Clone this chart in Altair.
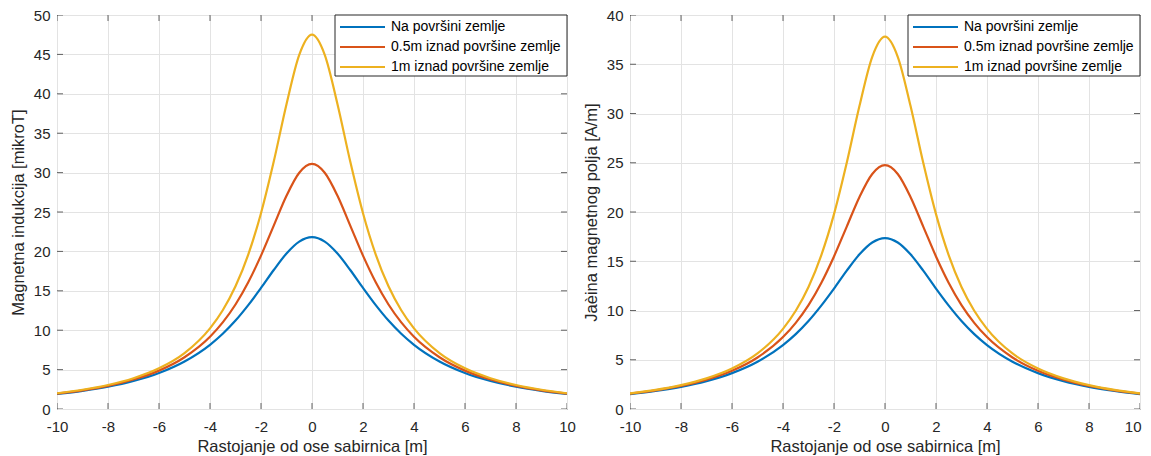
import altair as alt
import pandas as pd

x_vals = [-10, -9, -8, -7, -6, -5, -4, -3.5, -3, -2.5, -2, -1.5, -1, -0.5, 0,
          0.5, 1, 1.5, 2, 2.5, 3, 3.5, 4, 5, 6, 7, 8, 9, 10]

series_names = ["Na površini zemlje", "0.5m iznad površine zemlje", "1m iznad površine zemlje"]
series_colors = ["#0072BD", "#D95319", "#EDB120"]

# Left panel: magnetna indukcija [mikroT]
b_surface = [1.90, 2.30, 2.83, 3.56, 4.57, 6.03, 8.15, 9.55, 11.22, 13.18, 15.36, 17.64, 19.73, 21.24, 21.80,
             21.24, 19.73, 17.64, 15.36, 13.18, 11.22, 9.55, 8.15, 6.03, 4.57, 3.56, 2.83, 2.30, 1.90]
b_half = [1.95, 2.37, 2.94, 3.74, 4.87, 6.57, 9.17, 10.99, 13.26, 16.08, 19.46, 23.27, 27.06, 29.98, 31.10,
          29.98, 27.06, 23.27, 19.46, 16.08, 13.26, 10.99, 9.17, 6.57, 4.87, 3.74, 2.94, 2.37, 1.95]
b_one = [2.00, 2.44, 3.05, 3.91, 5.16, 7.09, 10.23, 12.53, 15.57, 19.60, 24.85, 31.40, 38.68, 44.94, 47.50,
         44.94, 38.68, 31.40, 24.85, 19.60, 15.57, 12.53, 10.23, 7.09, 5.16, 3.91, 3.05, 2.44, 2.00]

# Right panel: jacina magnetnog polja [A/m]
h_surface = [1.51, 1.83, 2.25, 2.83, 3.64, 4.80, 6.49, 7.60, 8.93, 10.49, 12.22, 14.04, 15.70, 16.90, 17.35,
             16.90, 15.70, 14.04, 12.22, 10.49, 8.93, 7.60, 6.49, 4.80, 3.64, 2.83, 2.25, 1.83, 1.51]
h_half = [1.55, 1.89, 2.34, 2.98, 3.88, 5.23, 7.30, 8.75, 10.55, 12.80, 15.49, 18.52, 21.53, 23.86, 24.75,
          23.86, 21.53, 18.52, 15.49, 12.80, 10.55, 8.75, 7.30, 5.23, 3.88, 2.98, 2.34, 1.89, 1.55]
h_one = [1.59, 1.94, 2.43, 3.11, 4.11, 5.64, 8.14, 9.97, 12.39, 15.60, 19.78, 24.99, 30.78, 35.76, 37.80,
         35.76, 30.78, 24.99, 19.78, 15.60, 12.39, 9.97, 8.14, 5.64, 4.11, 3.11, 2.43, 1.94, 1.59]

x_ticks = [-10, -8, -6, -4, -2, 0, 2, 4, 6, 8, 10]
y_ticks_left = [0, 5, 10, 15, 20, 25, 30, 35, 40, 45, 50]
y_ticks_right = [0, 5, 10, 15, 20, 25, 30, 35, 40]

x_title = "Rastojanje od ose sabirnica [m]"
y_title_left = "Magnetna indukcija [mikroT]"
y_title_right = "Jaèina magnetnog polja [A/m]"

FONT = "Liberation Sans"
DARK = "#262626"
W, H = 510, 394

color_enc = alt.Color("serie:N", sort=series_names,
                      scale=alt.Scale(domain=series_names, range=series_colors),
                      legend=None)


def make_df(ys):
    rows = []
    for name, vals in zip(series_names, ys):
        for xv, yv in zip(x_vals, vals):
            rows.append({"x": xv, "y": yv, "serie": name})
    return pd.DataFrame(rows)


def panel(ys, y_ticks, y_title, last_label_right=False):
    ymax = y_ticks[-1]
    x_axis_kwargs = dict(values=x_ticks, labelExpr="'' + datum.value", grid=True,
                         labelFlush=False, labelPadding=10, titlePadding=4)
    if last_label_right:
        x_axis_kwargs["labelAlign"] = {"expr": f"datum.value == {x_ticks[-1]} ? 'right' : 'center'"}
        x_axis_kwargs["labelOffset"] = {"expr": f"datum.value == {x_ticks[-1]} ? 1 : 0"}
    X = alt.X("x:Q", title=x_title,
              scale=alt.Scale(domain=[x_ticks[0], x_ticks[-1]], nice=False),
              axis=alt.Axis(**x_axis_kwargs))
    Y = alt.Y("y:Q", title=y_title,
              scale=alt.Scale(domain=[0, ymax], nice=False),
              axis=alt.Axis(values=y_ticks, labelExpr="'' + datum.value", grid=True,
                            labelFlush=False, labelPadding=7, titlePadding=7))
    df = make_df(ys)
    lines = alt.Chart(df).mark_line(strokeWidth=2.2, interpolate="monotone", clip=True).encode(
        x=X, y=Y, color=color_enc,
    )
    xt = pd.DataFrame([{"x": t, "y": yy} for t in x_ticks for yy in (0, ymax)])
    yt = pd.DataFrame([{"x": xx, "y": t} for t in y_ticks for xx in (x_ticks[0], x_ticks[-1])])
    xtick_layer = alt.Chart(xt).mark_tick(orient="vertical", size=12, thickness=1,
                                          color=DARK, clip=True).encode(x=X, y=Y)
    ytick_layer = alt.Chart(yt).mark_tick(orient="horizontal", size=12, thickness=1,
                                          color=DARK, clip=True).encode(x=X, y=Y)

    # legend drawn inside the plot, top-right, MATLAB style
    leg_box = alt.Chart(pd.DataFrame({"k": [0]})).mark_rect(
        fill="white", stroke=DARK, strokeWidth=1
    ).encode(x=alt.value(W - 232), x2=alt.value(W), y=alt.value(0), y2=alt.value(61))
    leg_base = alt.Chart(pd.DataFrame({"serie": series_names})).transform_window(
        idx="row_number()"
    ).transform_calculate(ly="datum.idx * 20 - 8")
    leg_lines = leg_base.mark_rule(strokeWidth=2.2).encode(
        x=alt.value(W - 227), x2=alt.value(W - 182),
        y=alt.Y("ly:Q", scale=None, axis=None),
        color=color_enc,
    )
    leg_text = leg_base.mark_text(align="left", baseline="middle", font=FONT, fontSize=14,
                                  color="#000000").encode(
        x=alt.value(W - 176),
        y=alt.Y("ly:Q", scale=None, axis=None),
        text="serie:N",
    )
    return alt.layer(lines, xtick_layer, ytick_layer, leg_box, leg_lines, leg_text).properties(
        width=W, height=H)


left = panel([b_surface, b_half, b_one], y_ticks_left, y_title_left)
right = panel([h_surface, h_half, h_one], y_ticks_right, y_title_right, last_label_right=True)

chart = alt.hconcat(left, right, spacing=6).properties(
    autosize=alt.AutoSizeParams(type="none"),
    padding={"left": 49, "top": 7, "right": 1086, "bottom": 433},
).configure_view(
    stroke=DARK, strokeWidth=1
).configure_axis(
    domain=False, ticks=False, tickSize=0,
    gridColor="#e3e3e3", gridWidth=1,
    labelFont=FONT, labelFontSize=15, labelColor=DARK,
    titleFont=FONT, titleFontSize=16.5, titleFontWeight="normal", titleColor=DARK,
)

chart.save("out.html", embed_options={"renderer": "svg", "actions": False})
